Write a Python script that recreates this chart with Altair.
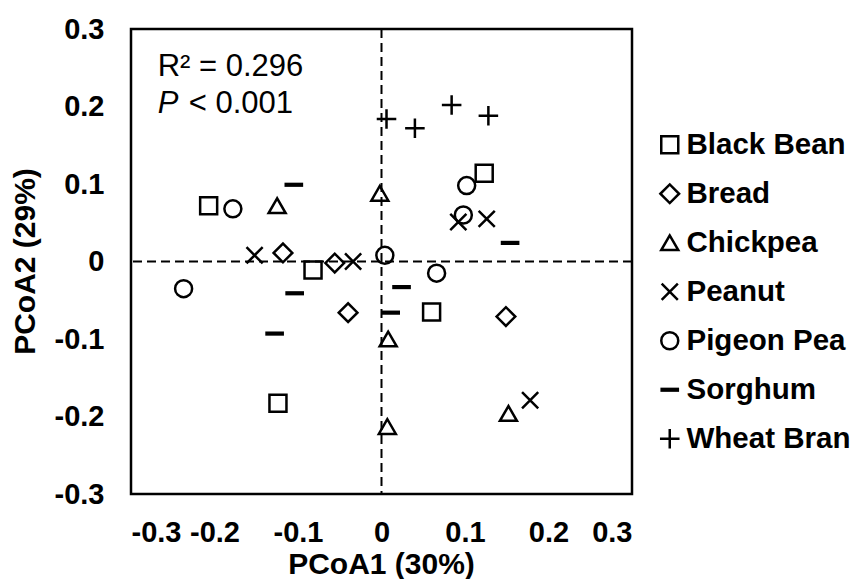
import altair as alt
import pandas as pd

groups = ["Black Bean", "Bread", "Chickpea", "Peanut", "Pigeon Pea", "Sorghum", "Wheat Bran"]

black_bean_x = [-0.207, -0.082, -0.124, 0.060, 0.123]
black_bean_y = [0.072, -0.011, -0.183, -0.065, 0.114]
bread_x = [-0.118, -0.056, -0.040, 0.149]
bread_y = [0.011, -0.002, -0.066, -0.071]
chickpea_x = [-0.125, -0.002, 0.008, 0.007, 0.152]
chickpea_y = [0.072, 0.088, -0.100, -0.213, -0.196]
peanut_x = [-0.152, -0.034, 0.092, 0.126, 0.178]
peanut_y = [0.008, 0.000, 0.051, 0.055, -0.179]
pigeon_pea_x = [-0.237, -0.178, 0.004, 0.066, 0.102, 0.098]
pigeon_pea_y = [-0.035, 0.068, 0.008, -0.015, 0.098, 0.060]
sorghum_x = [-0.105, -0.104, -0.128, 0.024, 0.011, 0.154]
sorghum_y = [0.099, -0.041, -0.093, -0.033, -0.066, 0.024]
wheat_bran_x = [0.006, 0.040, 0.084, 0.128]
wheat_bran_y = [0.184, 0.172, 0.202, 0.188]

tick_values = [-0.3, -0.2, -0.1, 0, 0.1, 0.2, 0.3]

series = [
    ("Black Bean", black_bean_x, black_bean_y),
    ("Bread", bread_x, bread_y),
    ("Chickpea", chickpea_x, chickpea_y),
    ("Peanut", peanut_x, peanut_y),
    ("Pigeon Pea", pigeon_pea_x, pigeon_pea_y),
    ("Sorghum", sorghum_x, sorghum_y),
    ("Wheat Bran", wheat_bran_x, wheat_bran_y),
]
rows = []
for name, xs, ys in series:
    for a, b in zip(xs, ys):
        rows.append({"group": name, "PCoA1": a, "PCoA2": b})
df = pd.DataFrame(rows)

shapes = [
    "square",
    "M-1.1,0L0,-1.1L1.1,0L0,1.1Z",
    "triangle-up",
    "M-0.95,-0.95L0.95,0.95M-0.95,0.95L0.95,-0.95",
    "circle",
    "M-0.95,-0.1L0.95,-0.1L0.95,0.1L-0.95,0.1Z",
    "M-1.15,0L1.15,0M0,-1.15L0,1.15",
]

FONT = "Liberation Sans"
xscale = alt.Scale(domain=[-0.3, 0.3], nice=False, zero=False)
yscale = alt.Scale(domain=[-0.3, 0.3], nice=False, zero=False)
label_expr = "abs(datum.value) < 1e-9 ? '0' : (datum.value < 0 ? '-' : '') + format(abs(datum.value), '.1f')"

xaxis = alt.Axis(values=tick_values, labelExpr=label_expr, labelPadding=24,
                 titleX=250, titleY=70, titleBaseline="middle")
yaxis = alt.Axis(values=tick_values, labelExpr=label_expr, labelPadding=27,
                 titleX=-106, titleY=232, titleBaseline="middle", titleAngle=270)

points = alt.Chart(df).mark_point(
    filled=False, color="black", strokeWidth=2.5, opacity=1, size=289
).encode(
    x=alt.X("PCoA1:Q", scale=xscale, axis=xaxis, title="PCoA1  (30%)"),
    y=alt.Y("PCoA2:Q", scale=yscale, axis=yaxis, title="PCoA2  (29%)"),
    shape=alt.Shape(
        "group:N",
        scale=alt.Scale(domain=groups, range=shapes),
        legend=alt.Legend(
            title=None, orient="none", legendX=524, legendY=101,
            labelFont=FONT, labelFontSize=29.5, labelFontWeight="bold", labelColor="black",
            labelLimit=0, rowPadding=18, symbolSize=289, symbolStrokeWidth=2.5,
            symbolStrokeColor="black", symbolFillColor="transparent",
            padding=0, labelOffset=2,
        ),
    ),
)

zero_df = pd.DataFrame({"v": [0]})
vline = alt.Chart(zero_df).mark_rule(color="black", strokeWidth=2, strokeDash=[9, 5]).encode(
    x=alt.datum(0)
)
hline = alt.Chart(zero_df).mark_rule(color="black", strokeWidth=2, strokeDash=[9, 5]).encode(
    y=alt.datum(0)
)

ann_r = pd.DataFrame({"PCoA1": [-0.268], "PCoA2": [0.2394], "t": ["R² = 0.296"]})
ann_p = pd.DataFrame({"PCoA1": [-0.268], "PCoA2": [0.1916], "t": ["P"]})
ann_v = pd.DataFrame({"PCoA1": [-0.268], "PCoA2": [0.1916], "t": ["< 0.001"]})

def text_layer(d, style="normal", dx=0):
    return alt.Chart(d).mark_text(
        align="left", baseline="alphabetic", font=FONT, fontSize=31,
        fontStyle=style, color="black", dx=dx
    ).encode(
        x=alt.X("PCoA1:Q", scale=xscale, title="PCoA1  (30%)"),
        y=alt.Y("PCoA2:Q", scale=yscale, title="PCoA2  (29%)"),
        text="t:N",
    )

chart = alt.layer(
    vline, hline, points,
    text_layer(ann_r), text_layer(ann_p, "italic"), text_layer(ann_v, dx=31),
).properties(
    width=501, height=465,
    padding={"left": 123, "top": 21, "right": 220, "bottom": 85},
    autosize=alt.AutoSizeParams(type="none"),
).configure_view(
    stroke="black", strokeWidth=2.5
).configure_axis(
    domain=False, ticks=False, grid=False,
    labelFont=FONT, labelFontSize=29, labelFontWeight="bold", labelColor="black",
    titleFont=FONT, titleFontSize=30, titleFontWeight="bold", titleColor="black",
)

chart.save("out.html", embed_options={"renderer": "svg", "actions": False})
